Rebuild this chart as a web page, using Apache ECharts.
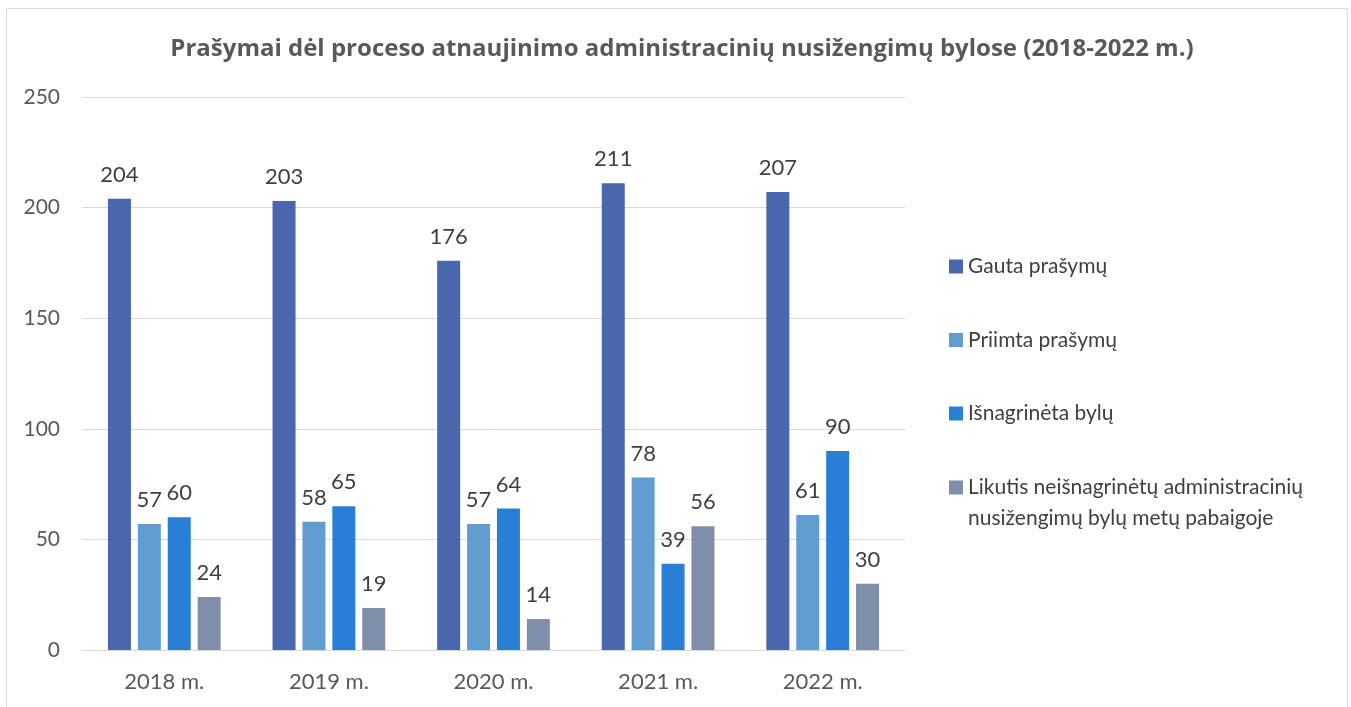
<!DOCTYPE html>
<html>
<head>
<meta charset="utf-8">
<script src="https://cdn.jsdelivr.net/npm/echarts@6/dist/echarts.min.js"></script>
<style>
  html, body { margin: 0; padding: 0; background: #fff; }
  #chart { width: 1351px; height: 707px; }
</style>
</head>
<body>
<div id="chart"></div>
<script>
const years = ['2018 m.', '2019 m.', '2020 m.', '2021 m.', '2022 m.']
const gauta = [204, 203, 176, 211, 207]
const priimta = [57, 58, 57, 78, 61]
const isnagrineta = [60, 65, 64, 39, 90]
const likutis = [24, 19, 14, 56, 30]

const seriesNames = [
  'Gauta prašymų',
  'Priimta prašymų',
  'Išnagrinėta bylų',
  'Likutis neišnagrinėtų administracinių nusižengimų bylų metų pabaigoje',
]
const colors = ['#4A66AC', '#629DD1', '#297FD5', '#7F8FA9']

const font = 'Lato, "Open Sans", sans-serif'

const chart = echarts.init(document.getElementById('chart'))

function barSeries(name, data, color) {
  return {
    name,
    type: 'bar',
    data,
    barWidth: 23,
    barGap: '30%',
    itemStyle: { color },
    label: {
      show: true,
      position: 'top',
      distance: 13,
      color: '#404040',
      fontSize: 22,
      fontFamily: font,
    },
  }
}

const legendText = {
  color: '#404040',
  fontSize: 21,
  fontFamily: font,
  lineHeight: 31,
}

chart.setOption({
  animation: false,
  title: {
    text: 'Prašymai dėl proceso atnaujinimo administracinių nusižengimų bylose (2018-2022 m.)',
    left: 677,
    textAlign: 'center',
    top: 32,
    textStyle: {
      color: '#595959',
      fontSize: 24,
      fontWeight: 'bold',
      fontFamily: '"Open Sans", sans-serif',
    },
  },
  legend: [
    {
      orient: 'vertical',
      left: 944,
      top: 246,
      itemWidth: 14,
      itemHeight: 14,
      itemGap: 42.5,
      icon: 'rect',
      textStyle: legendText,
      data: seriesNames.slice(0, 3),
    },
    {
      // last entry wraps to two lines; a blank first line keeps the marker beside line one
      orient: 'vertical',
      left: 944,
      top: 436,
      itemWidth: 14,
      itemHeight: 14,
      icon: 'rect',
      textStyle: {
        ...legendText,
        rich: {
          e: { fontSize: 21, lineHeight: 31 },
          b: { color: '#404040', fontSize: 21, fontFamily: font, lineHeight: 31 },
        },
      },
      formatter: () => '{e| }\n{b|Likutis neišnagrinėtų administracinių}\n{b|nusižengimų bylų metų pabaigoje}',
      data: seriesNames.slice(3),
    },
  ],
  grid: {
    left: 82,
    right: 446,
    top: 97,
    bottom: 57,
  },
  xAxis: {
    type: 'category',
    data: years,
    axisLine: { lineStyle: { color: '#d9d9d9', width: 1 } },
    axisTick: { show: false },
    axisLabel: {
      color: '#595959',
      fontSize: 22,
      fontFamily: font,
      margin: 21,
    },
  },
  yAxis: {
    type: 'value',
    min: 0,
    max: 250,
    interval: 50,
    axisLine: { show: false },
    axisTick: { show: false },
    axisLabel: {
      color: '#595959',
      fontSize: 21,
      fontFamily: font,
      margin: 22,
    },
    splitLine: { lineStyle: { color: '#d9d9d9', width: 1 } },
  },
  graphic: [{
    type: 'rect',
    shape: { x: 6.5, y: 8.5, width: 1341, height: 720 },
    style: { fill: 'none', stroke: '#d9d9d9', lineWidth: 1 },
    silent: true,
  }],
  series: [
    barSeries(seriesNames[0], gauta, colors[0]),
    barSeries(seriesNames[1], priimta, colors[1]),
    barSeries(seriesNames[2], isnagrineta, colors[2]),
    barSeries(seriesNames[3], likutis, colors[3]),
  ],
})
</script>
</body>
</html>
